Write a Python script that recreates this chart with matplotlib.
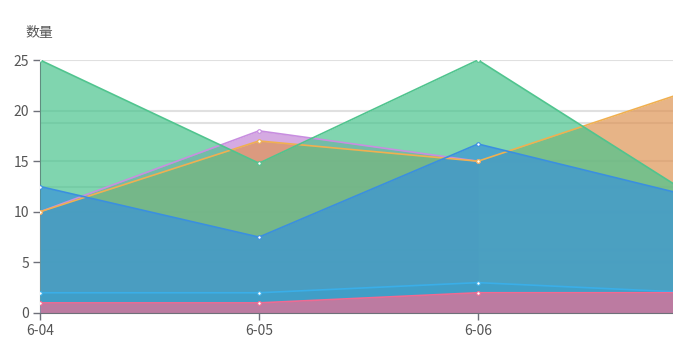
import matplotlib
matplotlib.use("Agg")
import matplotlib.pyplot as plt
import numpy as np

plt.rcParams['font.family'] = ['Noto Sans CJK SC', 'DejaVu Sans']

categories = ["6-04", "6-05", "6-06", "6-07"]
purple_vals = [10, 18, 15, np.nan]
orange_vals = [10, 17, 15, 22.2]
lightblue_vals = [2, 2, 3, 2]
green_vals = [25, 14.8, 25, 11.3]
blue_vals = [12.5, 7.5, 16.7, 11.4]
pink_vals = [1, 1, 2, 2]
y_ticks = [0, 5, 10, 15, 20, 25]
y_title = "数量"

# (values, area color, line color) in drawing order (bottom to top)
series = [
    (purple_vals, "#c486d6", "#c88ee0"),
    (orange_vals, "#de9455", "#f0b050"),
    (lightblue_vals, "#3ab0e8", "#3aaee8"),
    (green_vals, "#4ac48e", "#50c48e"),
    (blue_vals, "#3893d9", "#3a8fe0"),
    (pink_vals, "#f26d91", "#f06a92"),
]

W, H = 673, 361
fig = plt.figure(figsize=(W / 100, H / 100), dpi=100)
left, right, top, bottom = 40, 673, 60, 313
ax = fig.add_axes([left / W, (H - bottom) / H, (right - left) / W, (bottom - top) / H])

x = np.arange(len(categories))
step_px = 219

# grid lines (primary + secondary axis split lines)
grid_vals = sorted(set(y_ticks[1:] + [25 * k / 4 for k in range(1, 4)]))
for g in grid_vals:
    ax.axhline(g, color="#e0e0e0", lw=1.5, zorder=0.5)

z = 1
for vals, acol, lcol in series:
    v = np.array(vals, dtype=float)
    ax.fill_between(x, 0, v, where=~np.isnan(v), color=acol, alpha=0.7, lw=0, zorder=z)
    z += 1
for vals, acol, lcol in series:
    ax.plot(x, vals, color=lcol, lw=1.2, zorder=20, marker='o', markersize=2.6,
            markerfacecolor='white', markeredgecolor=lcol, markeredgewidth=0.8,
            clip_on=True)

ax.set_xticks(x)
ax.set_xticklabels(categories)
ax.set_yticks(y_ticks)
ax.set_xlim(0, (right - left) / step_px)
ax.set_ylim(0, 25)
ax.tick_params(axis='both', colors="#6e7079", labelcolor="#555555", labelsize=10,
               length=5, width=1)
ax.tick_params(axis='x', pad=3)
ax.tick_params(axis='y', pad=3)
for s in ["top", "right"]:
    ax.spines[s].set_visible(False)
ax.spines["bottom"].set_color("#6e7079")
ax.spines["left"].set_color("#6e7079")
ax.spines["bottom"].set_zorder(30)
ax.spines["left"].set_zorder(0.6)

fig.text(25 / W, (H - 33) / H, y_title, fontsize=10, color="#555555", va="center", ha="left")

fig.savefig("out.png", dpi=100)
